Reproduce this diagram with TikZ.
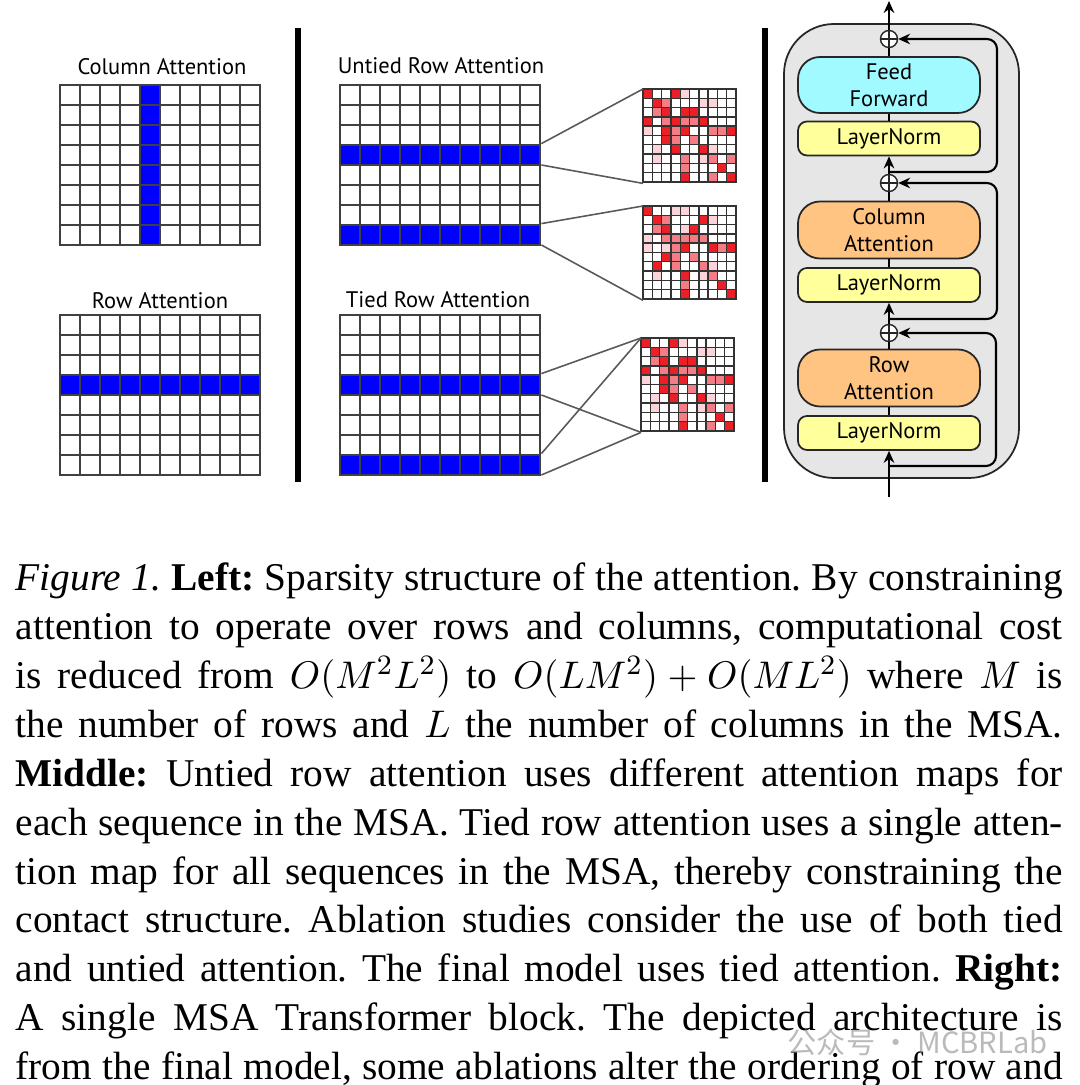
\documentclass[tikz,border=0pt]{standalone}
\usepackage{fontspec}
\setmainfont{Liberation Serif}
\newfontfamily\figfont{PT Sans}
\newfontfamily\cjkfont{Noto Sans CJK SC}
\usetikzlibrary{arrows.meta}

\definecolor{hm0}{RGB}{255,255,255}
\definecolor{hm1}{RGB}{250,212,216}
\definecolor{hm2}{RGB}{244,124,132}
\definecolor{hm3}{RGB}{236,30,38}
\definecolor{ffcyan}{RGB}{160,250,255}
\definecolor{lnyellow}{RGB}{255,255,155}
\definecolor{attorange}{RGB}{255,195,130}
\definecolor{blockgray}{RGB}{230,230,230}

% attention maps, rows from top to bottom
\newcommand{\heatA}{{3,0,0,3,1,0,0,0,0,0},{0,3,2,0,0,0,1,1,0,0},{0,2,3,0,3,3,0,0,0,0},{3,0,2,3,2,2,3,0,0,0},{1,0,3,2,3,0,0,2,2,3},{0,0,3,2,0,2,0,0,0,0},{0,1,0,3,0,0,3,1,0,0},{0,1,0,0,2,0,1,2,0,2},{0,0,0,0,2,0,0,0,3,0},{0,0,0,0,3,0,0,2,0,3}}
\newcommand{\heatB}{{3,0,0,1,1,0,0,0,0,0},{0,3,2,0,0,0,3,1,0,0},{0,2,3,0,1,3,0,0,0,0},{1,0,2,2,2,2,2,0,0,0},{1,0,1,2,3,0,0,3,2,3},{0,0,3,2,0,2,0,0,0,0},{0,3,0,2,0,0,2,1,0,0},{0,1,0,0,3,0,1,2,0,0},{0,0,0,0,2,0,0,0,3,0},{0,0,0,0,3,0,0,0,0,3}}
\newcommand{\heatcells}[2]{%
  \begin{scope}[shift={(#1.north west)}]
    \foreach \row [count=\i from 0] in #2 {
      \foreach \v [count=\j from 0] in \row {
        \filldraw[fill=hm\v, draw=black!80, line width=0.4pt] (0.093*\j,-0.093*\i) rectangle ++(0.093,-0.093);
      }
    }
  \end{scope}}
% 10 x 8 MSA grid, lower left corner given
\newcommand{\msagrid}[2]{%
  \begin{scope}[shift={(#1,#2)}]
    \foreach \k in {0,...,10} \draw[gridline] (0.2*\k,0) -- (0.2*\k,1.6);
    \foreach \k in {0,...,8} \draw[gridline] (0,0.2*\k) -- (2,0.2*\k);
  \end{scope}}
% one justified caption line
\newcommand{\capline}[1]{{\spaceskip=0.25em plus 0.6em minus 0.1em\relax
  \makebox[\linewidth][s]{#1}}\par}

\begin{document}
\begin{tikzpicture}[
  gridline/.style={draw=black!75, line width=0.45pt, line cap=rect},
  gridlabel/.style={font=\figfont\fontsize{6.4}{7.7}\selectfont, inner sep=0pt},
  selcell/.style={fill=blue, inner sep=0pt, anchor=south west},
  hmap/.style={draw=black!55, line width=0.4pt, minimum size=0.93cm, inner sep=0pt, anchor=north west},
  link/.style={draw=black!65, line width=0.45pt},
  sepbar/.style={line width=1.5pt},
  block/.style={draw=black!85, fill=blockgray, line width=0.5pt, rounded corners=0.5cm, minimum width=2.35cm, minimum height=4.54cm},
  layer/.style={draw=black!85, line width=0.5pt, minimum width=1.82cm, align=center, inner sep=0pt, font=\figfont\fontsize{6.4}{7.7}\selectfont},
  ffbox/.style={layer, fill=ffcyan, minimum height=0.56cm, rounded corners=0.22cm},
  attbox/.style={layer, fill=attorange, minimum height=0.57cm, rounded corners=0.22cm},
  lnbox/.style={layer, fill=lnyellow, minimum height=0.34cm, rounded corners=0.09cm},
  plusnode/.style={circle, draw=black!85, fill=white, line width=0.4pt, minimum size=0.17cm, inner sep=0pt,
    path picture={\draw[line width=0.4pt] (path picture bounding box.north) -- (path picture bounding box.south)
      (path picture bounding box.west) -- (path picture bounding box.east);}},
  mainline/.style={line width=0.65pt},
  tip/.style={-{Stealth[length=3.4pt, width=3pt]}},
  resline/.style={line width=0.6pt, rounded corners=0.1cm, -{Stealth[length=3.4pt, width=3pt]}},
  captext/.style={text width=10.47cm, inner sep=0pt, font=\fontsize{11.2}{13.9}\selectfont\frenchspacing},
  watermark/.style={font=\cjkfont\fontsize{8.3}{9}\selectfont, text=black!45, opacity=0.6, inner sep=0pt}
]
\useasboundingbox (0,0) rectangle (10.8,10.85);

% left: column and row attention
\node[gridlabel] (coltitle) at (1.62,10.18) {Column Attention};
\node[selcell, minimum width=0.2cm, minimum height=1.6cm] (colsel) at (1.40,8.40) {};
\msagrid{0.60}{8.40}
\node[gridlabel] (rowtitle) at (1.60,7.84) {Row Attention};
\node[selcell, minimum width=2cm, minimum height=0.2cm] (rowsel) at (0.60,6.90) {};
\msagrid{0.60}{6.10}

\draw[sepbar] (2.98,10.57) -- (2.98,6.03);

% middle: untied and tied row attention
\node[gridlabel] (untitle) at (4.41,10.19) {Untied Row Attention};
\node[selcell, minimum width=2cm, minimum height=0.2cm] (u1) at (3.40,9.20) {};
\node[selcell, minimum width=2cm, minimum height=0.2cm] (u2) at (3.40,8.40) {};
\msagrid{3.40}{8.40}
\node[gridlabel] (tititle) at (4.38,7.85) {Tied Row Attention};
\node[selcell, minimum width=2cm, minimum height=0.2cm] (t1) at (3.40,6.90) {};
\node[selcell, minimum width=2cm, minimum height=0.2cm] (t2) at (3.40,6.10) {};
\msagrid{3.40}{6.10}

\node[hmap] (hm1) at (6.43,9.96) {};
\node[hmap] (hm2) at (6.43,8.79) {};
\node[hmap] (hm3) at (6.41,7.47) {};
\heatcells{hm1}{\heatA}
\heatcells{hm2}{\heatB}
\heatcells{hm3}{\heatA}

\draw[link] (u1.north east) -- (hm1.north west);
\draw[link] (u1.south east) -- (hm1.south west);
\draw[link] (u2.north east) -- (hm2.north west);
\draw[link] (u2.south east) -- (hm2.south west);
\draw[link] (t1.north east) -- (hm3.north west);
\draw[link] (t1.south east) -- (hm3.south west);
\draw[link] (t2.north east) -- (hm3.north west);
\draw[link] (t2.south east) -- (hm3.south west);

\draw[sepbar] (7.65,10.57) -- (7.65,6.03);

% right: MSA transformer block
\node[block] (block) at (9.015,8.34) {};
\node[ffbox] (ff) at (8.89,10.00) {Feed\\Forward};
\node[lnbox] (ln1) at (8.89,9.465) {LayerNorm};
\node[attbox] (ca) at (8.89,8.55) {Column\\Attention};
\node[lnbox] (ln2) at (8.89,8.00) {LayerNorm};
\node[attbox] (ra) at (8.89,7.07) {Row\\Attention};
\node[lnbox] (ln3) at (8.89,6.52) {LayerNorm};
\node[plusnode] (p1) at (8.89,10.46) {};
\node[plusnode] (p2) at (8.89,9.02) {};
\node[plusnode] (p3) at (8.89,7.52) {};
\coordinate (in) at (8.89,5.88);
\coordinate (out) at (8.89,10.84);
\coordinate (b1) at (8.89,9.13);
\coordinate (b2) at (8.89,7.66);
\coordinate (b3) at (8.89,6.19);

\draw[mainline, tip] (in) -- (ln3);
\draw[mainline] (ln3) -- (ra);
\draw[mainline] (ra) -- (p3);
\draw[mainline, tip] (p3) -- (ln2);
\draw[mainline] (ln2) -- (ca);
\draw[mainline] (ca) -- (p2);
\draw[mainline, tip] (p2) -- (ln1);
\draw[mainline] (ln1) -- (ff);
\draw[mainline] (ff) -- (p1);
\draw[mainline, tip] (p1) -- (out);
\draw[resline] (b1) -- ++(1.08,0) |- (p1);
\draw[resline] (b2) -- ++(1.08,0) |- (p2);
\draw[resline] (b3) -- ++(1.07,0) |- (p3);

% caption
\node[captext, anchor=base west] (caption) at (0.15,4.94) {%
\capline{\textit{Figure 1.} \textbf{Left:} Sparsity structure of the attention. By constraining}
\capline{attention to operate over rows and columns, computational cost}
\capline{is reduced from $O(M^2L^2)$ to $O(LM^2) + O(ML^2)$ where $M$ is}
\capline{the number of rows and $L$ the number of columns in the MSA.}
\capline{\textbf{Middle:} Untied row attention uses different attention maps for}
\capline{each sequence in the MSA. Tied row attention uses a single atten-}
\capline{tion map for all sequences in the MSA, thereby constraining the}
\capline{contact structure. Ablation studies consider the use of both tied}
\capline{and untied attention. The final model uses tied attention. \textbf{Right:}}
\capline{A single MSA Transformer block. The depicted architecture is}
\capline{from the final model, some ablations alter the ordering of row and}};
\node[watermark, anchor=west] (mark) at (7.87,0.43) {公众号 · MCBRLab};
\end{tikzpicture}
\end{document}
